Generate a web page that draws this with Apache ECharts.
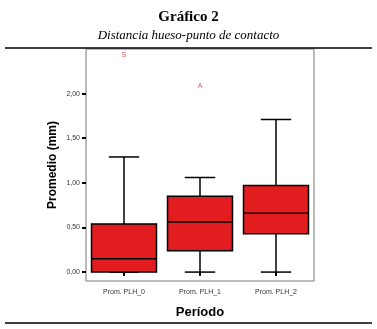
<!DOCTYPE html>
<html>
<head>
<meta charset="utf-8">
<script src="https://cdn.jsdelivr.net/npm/echarts@6/dist/echarts.min.js"></script>
<style>
html, body { margin: 0; padding: 0; background: #fff; }
#main { width: 377px; height: 329px; }
</style>
</head>
<body>
<div id="main"></div>
<script>
var categories = ['Prom. PLH_0', 'Prom. PLH_1', 'Prom. PLH_2'];
var minVals = [0.00, 0.00, 0.00];
var q1Vals = [0.00, 0.24, 0.43];
var medVals = [0.15, 0.56, 0.66];
var q3Vals = [0.54, 0.85, 0.97];
var maxVals = [1.29, 1.06, 1.71];
var outlierCats = [0, 1];
var outlierVals = [2.43, 2.08];
var outlierNames = ['S', 'A'];
var yTicks = [0, 0.5, 1, 1.5, 2];

var myChart = echarts.init(document.getElementById('main'));

var boxData = categories.map(function (c, i) {
    return [i, minVals[i], q1Vals[i], medVals[i], q3Vals[i], maxVals[i]];
});
var outData = outlierCats.map(function (c, i) {
    return { value: [c, outlierVals[i]], name: outlierNames[i] };
});

function renderBox(params, api) {
    var idx = api.value(0);
    var band = api.size([1, 0])[0];
    var bw = band * 0.855 / 2;
    var cw = band * 0.2;
    var pMin = api.coord([idx, api.value(1)]);
    var pQ1 = api.coord([idx, api.value(2)]);
    var pMed = api.coord([idx, api.value(3)]);
    var pQ3 = api.coord([idx, api.value(4)]);
    var pMax = api.coord([idx, api.value(5)]);
    var x = pMed[0];
    var ls = { stroke: '#000', lineWidth: 1.5 };
    return {
        type: 'group',
        children: [
            { type: 'line', shape: { x1: x, y1: pQ3[1], x2: x, y2: pMax[1] }, style: ls },
            { type: 'line', shape: { x1: x, y1: pQ1[1], x2: x, y2: pMin[1] }, style: ls },
            { type: 'line', shape: { x1: x - cw, y1: pMax[1], x2: x + cw, y2: pMax[1] }, style: ls },
            { type: 'line', shape: { x1: x - cw, y1: pMin[1], x2: x + cw, y2: pMin[1] }, style: ls },
            { type: 'rect', shape: { x: x - bw, y: pQ3[1], width: bw * 2, height: pQ1[1] - pQ3[1] },
              style: { fill: '#e21d1f', stroke: '#000', lineWidth: 1.5 } },
            { type: 'line', shape: { x1: x - bw, y1: pMed[1], x2: x + bw, y2: pMed[1] }, style: ls }
        ]
    };
}

option = {
    animation: false,
    backgroundColor: '#fff',
    title: [{
        text: 'Gráfico 2',
        left: 'center',
        top: 5,
        textStyle: { fontFamily: 'Liberation Serif', fontWeight: 'bold', fontSize: 15, color: '#000' }
    }, {
        text: 'Distancia hueso-punto de contacto',
        left: 'center',
        top: 24,
        textStyle: { fontFamily: 'Liberation Serif', fontStyle: 'italic', fontWeight: 'normal', fontSize: 13, color: '#000' }
    }],
    graphic: [
        { type: 'line', shape: { x1: 5, y1: 48, x2: 372, y2: 48 }, style: { stroke: '#000', lineWidth: 1.5 } },
        { type: 'line', shape: { x1: 5, y1: 323, x2: 372, y2: 323 }, style: { stroke: '#000', lineWidth: 1.5 } }
    ],
    grid: {
        left: 86,
        top: 49,
        width: 228,
        height: 232,
        show: true,
        borderColor: '#777',
        borderWidth: 1
    },
    xAxis: {
        type: 'category',
        data: categories,
        boundaryGap: true,
        name: 'Período',
        nameLocation: 'middle',
        nameGap: 25,
        nameTextStyle: { fontFamily: 'Liberation Sans', fontWeight: 'bold', fontSize: 13, color: '#000' },
        axisLine: { show: false },
        axisTick: { show: true, alignWithLabel: true, length: 4, lineStyle: { color: '#000', width: 2 } },
        axisLabel: { fontFamily: 'Liberation Sans', fontSize: 7, color: '#333', margin: 8 },
        splitLine: { show: false }
    },
    yAxis: {
        type: 'value',
        min: -0.1,
        max: 2.5,
        name: 'Promedio (mm)',
        nameLocation: 'middle',
        nameGap: 27,
        nameMoveOverlap: false,
        nameTextStyle: { fontFamily: 'Liberation Sans', fontWeight: 'bold', fontSize: 12, color: '#000' },
        axisLine: { show: false },
        axisTick: { show: true, length: 4, customValues: yTicks, lineStyle: { color: '#000', width: 2 } },
        axisLabel: {
            fontFamily: 'Liberation Sans', fontSize: 7, color: '#333', margin: 6,
            customValues: yTicks,
            formatter: function (v) { return v.toFixed(2).replace('.', ','); }
        },
        splitLine: { show: false }
    },
    series: [{
        type: 'custom',
        renderItem: renderBox,
        data: boxData,
        encode: { x: 0, y: [1, 2, 3, 4, 5] }
    }, {
        type: 'scatter',
        symbolSize: 1,
        itemStyle: { color: 'rgba(0,0,0,0)' },
        label: {
            show: true,
            position: 'inside',
            formatter: '{b}',
            fontFamily: 'Liberation Sans',
            fontSize: 7,
            color: '#d03030'
        },
        data: outData
    }]
};
myChart.setOption(option);
</script>
</body>
</html>
